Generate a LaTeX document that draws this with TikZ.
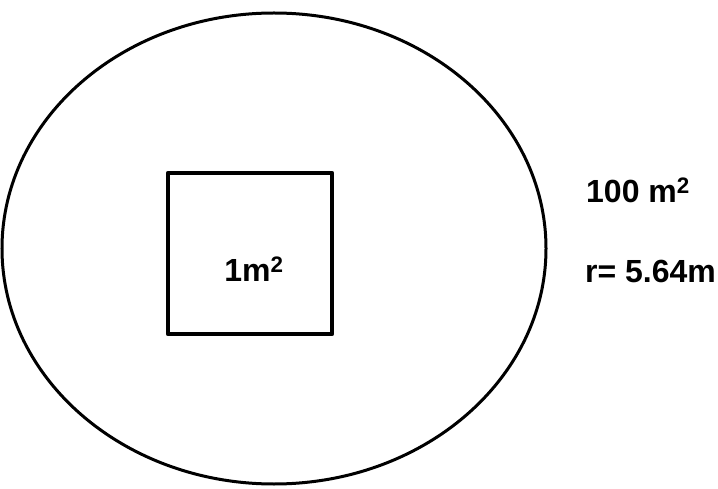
\documentclass[tikz,border=0pt]{standalone}
\usepackage{fontspec}
\setmainfont{Liberation Sans}
\begin{document}
\begin{tikzpicture}[x=1pt,y=-1pt,
  lbl/.style={font=\fontsize{32}{36}\selectfont\bfseries, inner sep=0pt},
  outline/.style={draw=black, line width=3pt},
  sq/.style={draw=black, line width=4.5pt, line join=round}]
\useasboundingbox (0,0) rectangle (718,489);
\draw[outline] (274,248.5) ellipse [x radius=272, y radius=235.5];
\draw[sq] (168,173) rectangle (332,334);
\node[lbl, anchor=base] (sqlabel) at (254,282) {1m\textsuperscript{2}};
\node[lbl, anchor=base west] (area) at (586,203) {100 m\textsuperscript{2}};
\node[lbl, anchor=base west] (radius) at (585,283) {r= 5.64m};
\end{tikzpicture}
\end{document}
